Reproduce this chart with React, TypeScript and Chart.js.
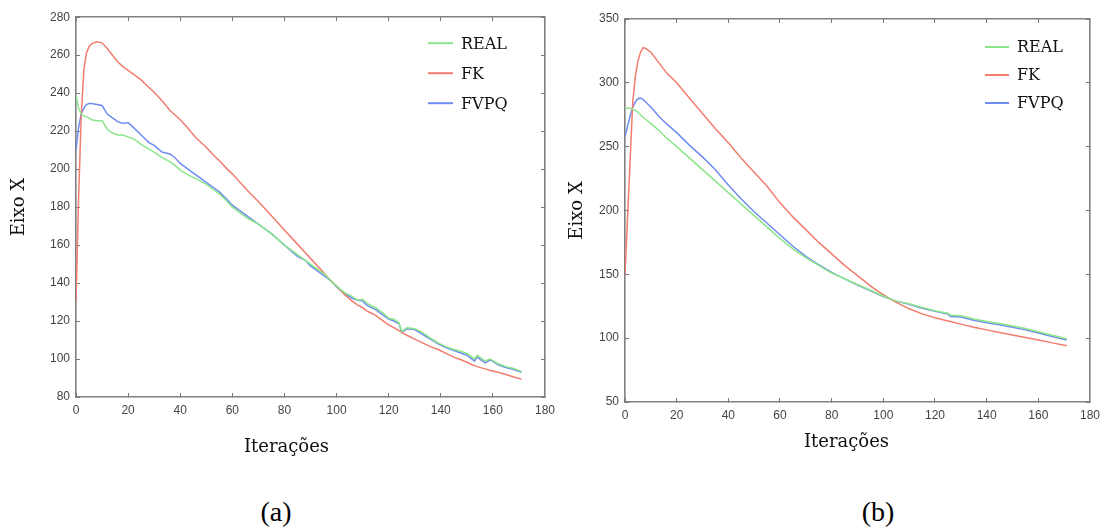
import React, { useEffect, useRef } from "react";
import { Chart, registerables } from "chart.js";

Chart.register(...registerables);

// ---------- shared ----------
const SERIES_LABELS = ["REAL", "FK", "FVPQ"];
const SERIES_COLORS = ["#8ce689", "#f27c6e", "#6f8cf0"];
const X_TICKS = [0, 20, 40, 60, 80, 100, 120, 140, 160, 180];
const X_TITLE = "Iterações";
const Y_TITLE = "Eixo X";

// ---------- chart (a) ----------
const A_Y_TICKS = [80, 100, 120, 140, 160, 180, 200, 220, 240, 260, 280];
const A_ITER = [0, 1, 2, 3, 4, 5, 6, 8, 10, 12, 14, 16, 18, 20, 22, 25, 28, 30, 33, 36, 38, 40, 43, 46, 50, 53, 55, 58, 60, 63, 66, 70, 75, 80, 85, 88, 90, 95, 98, 100, 103, 106, 108, 110, 112, 115, 118, 120, 122, 124, 125, 127, 130, 133, 136, 139, 142, 145, 148, 150, 152, 153, 154, 157, 159, 162, 165, 168, 171];
const A_REAL = [239, 232, 229, 228, 227.5, 227, 226, 225.5, 225.5, 221, 219, 218, 218, 217, 216, 213, 210.5, 209, 206, 204, 202, 199.5, 197, 195, 192, 189, 187, 183, 180, 177, 174, 171, 166, 160, 155, 152, 150, 145, 141, 138.5, 135, 133, 131, 131.5, 129, 127, 124, 121.5, 121, 119, 114.5, 116.5, 116, 114, 111, 108.5, 106.5, 105, 104, 103, 101, 100, 102, 99, 100, 97.5, 96, 95, 93.5];
const A_FK = [130, 185, 228, 252, 261, 264.5, 266, 267, 266.5, 263.5, 260, 256.5, 254, 252, 250, 247, 243, 240.5, 236, 231, 228.5, 226, 221.5, 216.5, 211.5, 207, 204.5, 200, 197.5, 193, 188.5, 183, 175.5, 168, 160.5, 156, 153, 145.5, 141, 138.5, 134, 130.5, 128.5, 127, 125, 123, 120, 118, 116.5, 115, 114, 112.5, 110.5, 108.5, 106.5, 105, 103, 101, 99.5, 98.3, 97, 96.5, 96, 94.8, 94, 93, 91.8, 90.5, 89.5];
const A_FVPQ = [210, 222, 229, 232, 234, 234.5, 234.5, 234, 233.5, 229, 227, 225, 224, 224.5, 222, 218, 214, 212.5, 209, 208, 206, 203, 200, 197, 193, 190, 188, 184, 181, 178, 175, 171, 166, 160, 154, 152, 149, 144, 141, 138, 134.5, 132, 131, 130.5, 128, 126, 123, 121, 120, 118.5, 114, 116, 115.5, 113, 110.5, 108, 106, 104.5, 103, 102, 100, 99, 101, 98, 99.5, 97, 95.5, 94.5, 93];

// ---------- chart (b) ----------
const B_Y_TICKS = [50, 100, 150, 200, 250, 300, 350];
const B_ITER = [0, 1, 2, 3, 4, 5, 6, 7, 8, 10, 13, 16, 20, 25, 30, 35, 40, 45, 50, 55, 60, 65, 70, 75, 80, 85, 90, 95, 100, 105, 110, 115, 120, 125, 126, 130, 135, 140, 145, 150, 155, 160, 165, 171];
const B_REAL = [280, 280, 280, 279, 278.5, 277, 275, 273, 271.5, 268, 263, 257, 250, 241, 232, 223, 214, 205, 196, 187, 178, 170, 163, 157, 151, 146.5, 142, 137.5, 133, 129, 127, 124, 121.5, 119.5, 118, 117.5, 115, 113, 111.5, 109.5, 107.5, 105, 102.5, 99.5];
const B_FK = [150, 195, 240, 285, 305, 317, 324, 327.5, 327, 324, 316, 308, 300, 288, 276, 264, 253, 241, 230, 219, 206, 195, 185, 175, 166, 157, 149, 141, 134, 128, 123, 119, 116, 113.5, 113, 111, 108.5, 106.5, 104.5, 102.5, 100.5, 98.5, 96.5, 94];
const B_FVPQ = [258, 266, 274, 281, 285, 287.5, 288, 287, 285, 281, 274, 268, 261, 251, 242, 232, 220, 209, 199, 190, 181, 172, 164, 157.5, 151.5, 146.5, 141.5, 137, 132.5, 129, 126.5, 123.5, 121, 119, 117, 116.5, 114, 112, 110.5, 108.5, 106.5, 104, 101.5, 98.5];

const pts = (xs: number[], ys: number[]) => xs.map((x, i) => ({ x, y: ys[i] }));

const innerLegend = {
  id: "innerLegend",
  afterDatasetsDraw(chart: any, _args: any, opts: any) {
    const { ctx, chartArea } = chart;
    ctx.save();
    chart.data.datasets.forEach((ds: any, i: number) => {
      const y = chartArea.top + opts.top + i * opts.gap;
      const x0 = chartArea.right - opts.right;
      ctx.strokeStyle = ds.borderColor;
      ctx.lineWidth = 2;
      ctx.beginPath();
      ctx.moveTo(x0, y + opts.lineDy);
      ctx.lineTo(x0 + opts.len, y + opts.lineDy);
      ctx.stroke();
      ctx.fillStyle = "#111";
      ctx.font = opts.font;
      ctx.textBaseline = "middle";
      ctx.textAlign = "left";
      ctx.fillText(ds.label, x0 + opts.len + opts.textGap, y);
    });
    ctx.restore();
  },
};

const TITLE_FONT = { family: "'DejaVu Serif', serif", size: 18, weight: "normal" as const, lineHeight: 1.2 };
const TICK_FONT = { family: "'Liberation Sans', Arial, sans-serif", size: 12 };
const LEGEND_FONT = "16px 'DejaVu Serif', serif";

function gridOpts() {
  return { display: true, drawOnChartArea: false, drawTicks: true, tickLength: -4, color: "#777", lineWidth: 1 };
}
function borderOpts() {
  return { display: true, color: "#808080", width: 1.6 };
}

function makeConfig(p: any) {
  const datasets = [p.real, p.fk, p.fvpq].map((ys: number[], i: number) => ({
    label: SERIES_LABELS[i],
    data: pts(p.iter, ys),
    borderColor: SERIES_COLORS[i],
    backgroundColor: SERIES_COLORS[i],
    borderWidth: 1.5,
    pointRadius: 0,
    tension: 0,
    fill: false,
    xAxisID: "x",
    yAxisID: "y",
  }));
  const yMin = p.yTicks[0];
  const yMax = p.yTicks[p.yTicks.length - 1];
  return {
    type: "line" as const,
    data: { datasets },
    plugins: [innerLegend],
    options: {
      responsive: false,
      animation: false as const,
      layout: { padding: p.padding },
      plugins: {
        legend: { display: false },
        tooltip: { enabled: false },
        innerLegend: p.legend,
      },
      scales: {
        x: {
          type: "linear",
          axis: "x",
          position: "bottom",
          min: 0,
          max: 180,
          afterBuildTicks: (s: any) => { s.ticks = X_TICKS.map((v) => ({ value: v })); },
          afterFit: (s: any) => {
            s.height = p.xAxisHeight;
            if (!s._titleShifted) {
              const orig = s.drawTitle;
              s.drawTitle = function () {
                this.ctx.save();
                this.ctx.translate(p.xTitleDx, 0);
                orig.call(this);
                this.ctx.restore();
              };
              s._titleShifted = true;
            }
          },
          ticks: { padding: 10, color: "#444", font: TICK_FONT, autoSkip: false, maxRotation: 0 },
          grid: gridOpts(),
          border: borderOpts(),
          title: { display: true, text: X_TITLE, color: "#111", font: TITLE_FONT, padding: 0 },
        },
        x2: {
          type: "linear",
          axis: "x",
          position: "top",
          min: 0,
          max: 180,
          afterBuildTicks: (s: any) => { s.ticks = X_TICKS.map((v) => ({ value: v })); },
          afterFit: (s: any) => { s.height = 0; },
          ticks: { display: false },
          grid: gridOpts(),
          border: borderOpts(),
        },
        y: {
          type: "linear",
          axis: "y",
          position: "left",
          min: yMin,
          max: yMax,
          afterBuildTicks: (s: any) => { s.ticks = p.yTicks.map((v: number) => ({ value: v })); },
          afterFit: (s: any) => { s.width = p.yAxisWidth; },
          ticks: { padding: p.yTickPad, color: "#444", font: TICK_FONT, autoSkip: false },
          grid: gridOpts(),
          border: borderOpts(),
          title: { display: true, text: Y_TITLE, color: "#111", font: TITLE_FONT, padding: 0 },
        },
        y2: {
          type: "linear",
          axis: "y",
          position: "right",
          min: yMin,
          max: yMax,
          afterBuildTicks: (s: any) => { s.ticks = p.yTicks.map((v: number) => ({ value: v })); },
          afterFit: (s: any) => { s.width = 0; },
          ticks: { display: false },
          grid: gridOpts(),
          border: borderOpts(),
        },
      },
    },
  };
}

const CFG_A = {
  iter: A_ITER, real: A_REAL, fk: A_FK, fvpq: A_FVPQ, yTicks: A_Y_TICKS,
  width: 565,
  padding: { left: 9, top: 16, right: 20, bottom: 12 },
  yAxisWidth: 67, xAxisHeight: 61, yTickPad: 10, xTitleDx: -24,
  legend: { top: 28, gap: 30, right: 117, len: 25, textGap: 8, lineDy: -2, font: LEGEND_FONT },
};
const CFG_B = {
  iter: B_ITER, real: B_REAL, fk: B_FK, fvpq: B_FVPQ, yTicks: B_Y_TICKS,
  width: 555,
  padding: { left: 12, top: 19, right: 19, bottom: 17 },
  yAxisWidth: 58, xAxisHeight: 51, yTickPad: 10, xTitleDx: -11,
  legend: { top: 29, gap: 28, right: 105, len: 24, textGap: 8, lineDy: -1, font: LEGEND_FONT },
};

function Plot({ cfg, left }: { cfg: any; left: number }) {
  const ref = useRef<HTMLCanvasElement | null>(null);
  useEffect(() => {
    if (!ref.current) return;
    const chart = new Chart(ref.current, makeConfig(cfg) as any);
    return () => chart.destroy();
  }, []);
  return (
    <canvas
      ref={ref}
      width={cfg.width}
      height={470}
      style={{ position: "absolute", left, top: 0, width: cfg.width, height: 470 }}
    />
  );
}

const captionStyle: React.CSSProperties = {
  position: "absolute",
  top: 495,
  width: 80,
  textAlign: "center",
  fontFamily: "'Liberation Serif', 'Times New Roman', serif",
  fontSize: 28,
  lineHeight: "34px",
  color: "#000",
};

export default function App() {
  return (
    <div style={{ position: "absolute", left: 0, top: 0, width: 1110, height: 532, background: "#fff", overflow: "hidden" }}>
      <Plot cfg={CFG_A} left={0} />
      <Plot cfg={CFG_B} left={555} />
      <div style={{ ...captionStyle, left: 276 - 40 }}>(a)</div>
      <div style={{ ...captionStyle, left: 878 - 40 }}>(b)</div>
    </div>
  );
}
